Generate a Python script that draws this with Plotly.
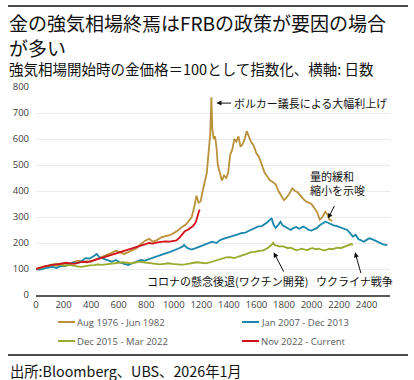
import plotly.graph_objects as go

# ---------------- data ----------------
series_names = ["Aug 1976 - Jun 1982", "Jan 2007 - Dec 2013", "Dec 2015 - Mar 2022", "Nov 2022 - Current"]
series_colors = ["#B8913A", "#1A87AB", "#9AAA2E", "#D0101A"]

gold_days = [0, 20, 40, 60, 80, 100, 130, 160, 190, 220, 250, 280, 310, 340, 370, 400, 430, 460, 490, 520,
             550, 580, 610, 640, 670, 700, 730, 760, 790, 820, 850, 880, 910, 940, 970, 1000, 1030, 1060,
             1090, 1110, 1130, 1150, 1165, 1180, 1195, 1210, 1225, 1240, 1255, 1265, 1273, 1280, 1290, 1300,
             1310, 1320, 1335, 1350, 1365, 1380, 1395, 1410, 1425, 1440, 1455, 1470, 1485, 1500, 1515, 1530,
             1545, 1560, 1580, 1600, 1620, 1640, 1660, 1680, 1700, 1720, 1740, 1760, 1780, 1800, 1820, 1840,
             1860, 1880, 1900, 1920, 1940, 1960, 1980, 2000, 2020, 2040, 2060, 2080, 2100, 2115, 2130, 2150]
gold_vals = [100, 97, 103, 106, 110, 112, 115, 112, 118, 122, 120, 128, 132, 126, 130, 128, 136, 142, 150, 156,
             162, 170, 164, 158, 165, 172, 180, 195, 208, 216, 205, 212, 222, 226, 230, 238, 248, 262,
             272, 285, 300, 340, 382, 355, 360, 400, 430, 470, 560, 620, 760, 640, 600, 610,
             570, 500, 470, 440, 460, 450, 470, 540, 560, 600, 590, 610, 570, 580, 600, 630,
             610, 590, 575, 545, 530, 500, 470, 455, 440, 435, 425, 400, 380, 365, 375, 390,
             410, 400, 395, 380, 370, 360, 355, 350, 335, 320, 290, 300, 320, 310, 290, 285]

teal_days = [0, 30, 60, 90, 120, 150, 180, 210, 240, 270, 300, 330, 360, 390, 420, 441, 460, 490, 520, 550,
             580, 610, 640, 670, 700, 730, 760, 790, 820, 850, 880, 910, 940, 970, 1000, 1030, 1060, 1075,
             1100, 1130, 1160, 1190, 1220, 1250, 1280, 1310, 1340, 1370, 1400, 1430, 1460, 1490, 1520, 1550,
             1580, 1610, 1640, 1660, 1680, 1700, 1710, 1725, 1740, 1760, 1775, 1790, 1810, 1830, 1850, 1870,
             1890, 1910, 1940, 1960, 1980, 2000, 2020, 2040, 2060, 2080, 2100, 2120, 2140, 2160, 2180, 2200,
             2220, 2240, 2260, 2280, 2300, 2320, 2340, 2360, 2380, 2400, 2420, 2440, 2460, 2480, 2500, 2520, 2550]
teal_vals = [100, 98, 102, 105, 108, 104, 112, 110, 118, 125, 122, 130, 142, 140, 150, 158, 145, 140, 132, 128,
             135, 125, 120, 115, 122, 130, 135, 132, 138, 145, 150, 155, 160, 165, 173, 178, 185, 192,
             180, 175, 180, 186, 195, 200, 205, 200, 212, 218, 222, 228, 232, 238, 240, 248,
             255, 263, 265, 272, 280, 290, 296, 270, 258, 270, 282, 268, 262, 255, 250, 258,
             262, 255, 263, 258, 250, 248, 252, 258, 268, 275, 282, 278, 272, 268, 266, 262,
             258, 255, 250, 238, 225, 232, 215, 210, 205, 212, 218, 215, 210, 205, 200, 195, 192]

olive_days = [0, 30, 60, 90, 120, 150, 180, 210, 240, 270, 300, 330, 360, 390, 420, 450, 480, 510, 540, 570,
              600, 630, 660, 690, 720, 750, 780, 810, 840, 870, 900, 930, 960, 990, 1020, 1050, 1080, 1110,
              1140, 1170, 1200, 1230, 1260, 1290, 1320, 1350, 1380, 1410, 1440, 1470, 1500, 1530, 1560, 1590,
              1620, 1650, 1680, 1700, 1715, 1722, 1735, 1750, 1770, 1790, 1810, 1830, 1850, 1870, 1890, 1910,
              1930, 1950, 1970, 1990, 2010, 2030, 2050, 2070, 2090, 2110, 2130, 2150, 2170, 2190, 2210, 2230,
              2250, 2270, 2290, 2300]
olive_vals = [100, 105, 110, 115, 118, 120, 115, 112, 116, 112, 110, 108, 112, 114, 115, 118, 116, 118, 120, 122,
              125, 126, 124, 122, 125, 128, 126, 125, 122, 120, 118, 120, 122, 120, 118, 117, 118, 120,
              124, 126, 124, 122, 125, 130, 138, 142, 145, 146, 142, 148, 152, 158, 165, 166,
              170, 172, 180, 188, 195, 201, 192, 190, 186, 188, 185, 180, 182, 178, 172, 175,
              178, 175, 172, 178, 180, 176, 178, 175, 172, 174, 178, 176, 180, 182, 180, 184,
              186, 190, 196, 192]

red_days = [0, 20, 40, 60, 80, 100, 130, 160, 190, 220, 250, 280, 310, 340, 370, 400, 430, 460, 490, 520,
            550, 580, 610, 640, 670, 700, 730, 760, 790, 820, 850, 880, 910, 940, 970, 1000, 1020, 1040,
            1060, 1080, 1100, 1120, 1140, 1160, 1175, 1185, 1192]
red_vals = [100, 104, 106, 110, 112, 115, 117, 119, 122, 124, 122, 120, 125, 128, 126, 130, 135, 140, 145, 150,
            153, 160, 165, 170, 175, 180, 182, 188, 195, 200, 198, 202, 204, 206, 205, 208, 210, 220,
            235, 245, 250, 258, 265, 280, 310, 325, 327]

x_ticks = [0, 200, 400, 600, 800, 1000, 1200, 1400, 1600, 1800, 2000, 2200, 2400]
y_ticks = [0, 100, 200, 300, 400, 500, 600, 700, 800]

title_lines = ["金の強気相場終焉はFRBの政策が要因の場合", "が多い"]
subtitle = "強気相場開始時の金価格＝100として指数化、横軸: 日数"
source = "出所:Bloomberg、UBS、2026年1月"

# ---------------- figure ----------------
W, H = 414, 380
L, R, T, B = 36, 24, 87, 85
pw, ph = W - L - R, H - T - B


def px_x(p):
    return (p - L) / pw


def px_y(p):
    return (H - B - p) / ph


CJK = "Noto Sans CJK JP"
LAT = "Open Sans"

fig = go.Figure()
all_series = [(gold_days, gold_vals), (teal_days, teal_vals), (olive_days, olive_vals), (red_days, red_vals)]
for (xs, ys), name, col in zip(all_series, series_names, series_colors):
    fig.add_trace(go.Scatter(x=xs, y=ys, mode="lines", name=name,
                             line=dict(color=col, width=1.8), showlegend=False, hoverinfo="skip"))

fig.update_layout(
    width=W, height=H,
    margin=dict(l=L, r=R, t=T, b=B, pad=0),
    paper_bgcolor="white", plot_bgcolor="white",
    xaxis=dict(range=[0, 2570], tickvals=x_ticks, showgrid=False, zeroline=False,
               showline=True, linecolor="#5a5a5a", linewidth=2, ticks="",
               tickfont=dict(family=LAT, size=9.5, color="#404040")),
    yaxis=dict(range=[0, 800], tickvals=y_ticks, showgrid=True, gridcolor="#ebebeb", gridwidth=1,
               zeroline=False, ticks="", ticklabelstandoff=6,
               tickfont=dict(family=LAT, size=9.5, color="#404040")),
)

ann = []
# titles
ann.append(dict(text="<br>".join(title_lines), x=px_x(8), y=px_y(8), xref="paper", yref="paper",
                xanchor="left", yanchor="top", align="left", showarrow=False, borderpad=0,
                font=dict(family=CJK, size=19, color="#111111")))
ann.append(dict(text=subtitle, x=px_x(8), y=px_y(68), xref="paper", yref="paper", xanchor="left",
                yanchor="middle", showarrow=False, borderpad=0,
                font=dict(family=CJK, size=14.5, color="#111111")))
ann.append(dict(text=source, x=px_x(8), y=px_y(370), xref="paper", yref="paper", xanchor="left",
                yanchor="middle", showarrow=False, font=dict(family=CJK, size=14.3, color="#111111")))

# chart callouts
afont = dict(family=CJK, size=11, color="#111111")
arrow_style = dict(text="", showarrow=True, axref="x", ayref="y", arrowhead=2, arrowsize=1, arrowwidth=1,
                   arrowcolor="#111111", font=dict(size=1), borderpad=0)
ann.append(dict(text="ボルカー議長による大幅利上げ", x=1425, y=738, xanchor="left", yanchor="middle",
                showarrow=False, font=afont))
ann.append(dict(x=1310, y=738, ax=1420, ay=738, **arrow_style))
ann.append(dict(text="量的緩和<br>縮小を示唆", x=1985, y=430, xanchor="left", yanchor="middle", align="left",
                showarrow=False, font=afont, borderpad=0))
ann.append(dict(x=2120, y=294, ax=2168, ay=344, **arrow_style))
ann.append(dict(text="コロナの懸念後退(ワクチン開発)", x=1390, y=54, xanchor="center", yanchor="middle",
                showarrow=False, font=afont))
ann.append(dict(x=1726, y=164, ax=1800, ay=88, **arrow_style))
ann.append(dict(text="ウクライナ戦争", x=2312, y=54, xanchor="center", yanchor="middle",
                showarrow=False, font=afont))
ann.append(dict(x=2316, y=164, ax=2360, ay=82, **arrow_style))

# manual legend
shapes = []
leg_pos = [(58, 322), (242, 322), (58, 341), (242, 341)]
for (lx, ly), name, col in zip(leg_pos, series_names, series_colors):
    shapes.append(dict(type="line", xref="paper", yref="paper", x0=px_x(lx), x1=px_x(lx + 17),
                       y0=px_y(ly), y1=px_y(ly), line=dict(color=col, width=2)))
    ann.append(dict(text=name, x=px_x(lx + 17), y=px_y(ly), xref="paper", yref="paper", xanchor="left",
                    yanchor="middle", showarrow=False, font=dict(family=LAT, size=9.5, color="#595959")))

# rules
shapes.append(dict(type="line", xref="paper", yref="paper", x0=px_x(8), x1=px_x(408), y0=px_y(6), y1=px_y(6),
                   line=dict(color="#111111", width=1.5)))
shapes.append(dict(type="line", xref="paper", yref="paper", x0=px_x(8), x1=px_x(408), y0=px_y(355),
                   y1=px_y(355), line=dict(color="#111111", width=1.5)))

fig.update_layout(annotations=ann, shapes=shapes)
fig.write_html("out.html", config={"displayModeBar": False},
               post_script="document.body.style.margin='0';document.body.style.overflow='hidden';")
